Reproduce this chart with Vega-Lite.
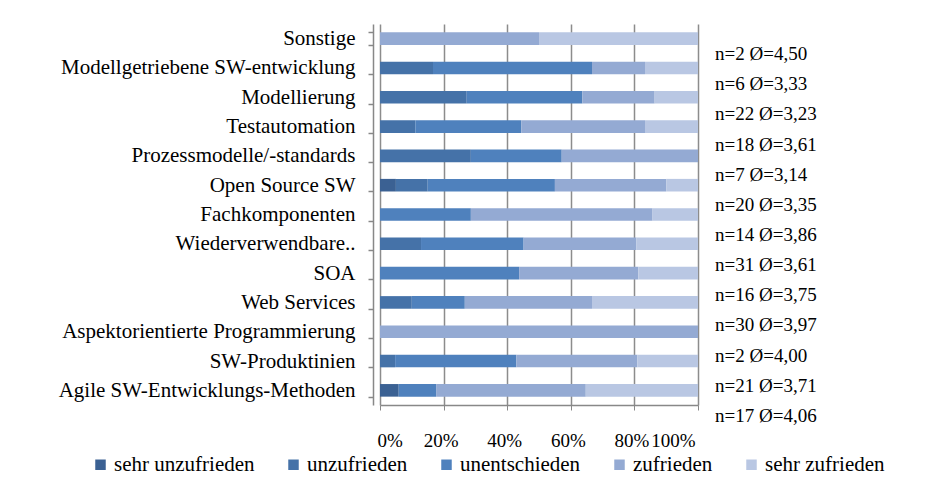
{
  "$schema": "https://vega.github.io/schema/vega-lite/v6.json",
  "width": 318,
  "height": 381,
  "autosize": {"type": "none"},
  "padding": {"left": 380, "top": 24, "right": 245, "bottom": 72},
  "background": "white",
  "config": {
    "view": {"stroke": null},
    "font": "Liberation Serif"
  },
  "datasets": {
    "counts": [
      {"cat": "Sonstige", "resp": "zufrieden", "k": 4, "n": 1},
      {"cat": "Sonstige", "resp": "sehr zufrieden", "k": 5, "n": 1},
      {"cat": "Modellgetriebene SW-entwicklung", "resp": "unzufrieden", "k": 2, "n": 1},
      {"cat": "Modellgetriebene SW-entwicklung", "resp": "unentschieden", "k": 3, "n": 3},
      {"cat": "Modellgetriebene SW-entwicklung", "resp": "zufrieden", "k": 4, "n": 1},
      {"cat": "Modellgetriebene SW-entwicklung", "resp": "sehr zufrieden", "k": 5, "n": 1},
      {"cat": "Modellierung", "resp": "unzufrieden", "k": 2, "n": 6},
      {"cat": "Modellierung", "resp": "unentschieden", "k": 3, "n": 8},
      {"cat": "Modellierung", "resp": "zufrieden", "k": 4, "n": 5},
      {"cat": "Modellierung", "resp": "sehr zufrieden", "k": 5, "n": 3},
      {"cat": "Testautomation", "resp": "unzufrieden", "k": 2, "n": 2},
      {"cat": "Testautomation", "resp": "unentschieden", "k": 3, "n": 6},
      {"cat": "Testautomation", "resp": "zufrieden", "k": 4, "n": 7},
      {"cat": "Testautomation", "resp": "sehr zufrieden", "k": 5, "n": 3},
      {"cat": "Prozessmodelle/-standards", "resp": "unzufrieden", "k": 2, "n": 2},
      {"cat": "Prozessmodelle/-standards", "resp": "unentschieden", "k": 3, "n": 2},
      {"cat": "Prozessmodelle/-standards", "resp": "zufrieden", "k": 4, "n": 3},
      {"cat": "Open Source SW", "resp": "sehr unzufrieden", "k": 1, "n": 1},
      {"cat": "Open Source SW", "resp": "unzufrieden", "k": 2, "n": 2},
      {"cat": "Open Source SW", "resp": "unentschieden", "k": 3, "n": 8},
      {"cat": "Open Source SW", "resp": "zufrieden", "k": 4, "n": 7},
      {"cat": "Open Source SW", "resp": "sehr zufrieden", "k": 5, "n": 2},
      {"cat": "Fachkomponenten", "resp": "unentschieden", "k": 3, "n": 4},
      {"cat": "Fachkomponenten", "resp": "zufrieden", "k": 4, "n": 8},
      {"cat": "Fachkomponenten", "resp": "sehr zufrieden", "k": 5, "n": 2},
      {"cat": "Wiederverwendbare..", "resp": "unzufrieden", "k": 2, "n": 4},
      {"cat": "Wiederverwendbare..", "resp": "unentschieden", "k": 3, "n": 10},
      {"cat": "Wiederverwendbare..", "resp": "zufrieden", "k": 4, "n": 11},
      {"cat": "Wiederverwendbare..", "resp": "sehr zufrieden", "k": 5, "n": 6},
      {"cat": "SOA", "resp": "unentschieden", "k": 3, "n": 7},
      {"cat": "SOA", "resp": "zufrieden", "k": 4, "n": 6},
      {"cat": "SOA", "resp": "sehr zufrieden", "k": 5, "n": 3},
      {"cat": "Web Services", "resp": "unzufrieden", "k": 2, "n": 3},
      {"cat": "Web Services", "resp": "unentschieden", "k": 3, "n": 5},
      {"cat": "Web Services", "resp": "zufrieden", "k": 4, "n": 12},
      {"cat": "Web Services", "resp": "sehr zufrieden", "k": 5, "n": 10},
      {"cat": "Aspektorientierte Programmierung", "resp": "zufrieden", "k": 4, "n": 2},
      {"cat": "SW-Produktinien", "resp": "unzufrieden", "k": 2, "n": 1},
      {"cat": "SW-Produktinien", "resp": "unentschieden", "k": 3, "n": 8},
      {"cat": "SW-Produktinien", "resp": "zufrieden", "k": 4, "n": 8},
      {"cat": "SW-Produktinien", "resp": "sehr zufrieden", "k": 5, "n": 4},
      {"cat": "Agile SW-Entwicklungs-Methoden", "resp": "sehr unzufrieden", "k": 1, "n": 1},
      {"cat": "Agile SW-Entwicklungs-Methoden", "resp": "unentschieden", "k": 3, "n": 2},
      {"cat": "Agile SW-Entwicklungs-Methoden", "resp": "zufrieden", "k": 4, "n": 8},
      {"cat": "Agile SW-Entwicklungs-Methoden", "resp": "sehr zufrieden", "k": 5, "n": 6}
    ],
    "labels": [
      {"i": 1, "txt": "n=2 Ø=4,50"},
      {"i": 2, "txt": "n=6 Ø=3,33"},
      {"i": 3, "txt": "n=22 Ø=3,23"},
      {"i": 4, "txt": "n=18 Ø=3,61"},
      {"i": 5, "txt": "n=7 Ø=3,14"},
      {"i": 6, "txt": "n=20 Ø=3,35"},
      {"i": 7, "txt": "n=14 Ø=3,86"},
      {"i": 8, "txt": "n=31 Ø=3,61"},
      {"i": 9, "txt": "n=16 Ø=3,75"},
      {"i": 10, "txt": "n=30 Ø=3,97"},
      {"i": 11, "txt": "n=2 Ø=4,00"},
      {"i": 12, "txt": "n=21 Ø=3,71"},
      {"i": 13, "txt": "n=17 Ø=4,06"}
    ]
  },
  "layer": [
    {
      "data": {"name": "counts"},
      "mark": {"type": "bar"},
      "encoding": {
        "y": {
          "field": "cat",
          "type": "nominal",
          "sort": ["Sonstige", "Modellgetriebene SW-entwicklung", "Modellierung", "Testautomation", "Prozessmodelle/-standards", "Open Source SW", "Fachkomponenten", "Wiederverwendbare..", "SOA", "Web Services", "Aspektorientierte Programmierung", "SW-Produktinien", "Agile SW-Entwicklungs-Methoden"],
          "scale": {"paddingInner": 0.57, "paddingOuter": 0.285},
          "axis": {
            "title": null,
            "offset": 7,
            "domainColor": "#888888",
            "domainWidth": 1.5,
            "tickColor": "#888888",
            "tickWidth": 1.5,
            "tickSize": 5,
            "tickBand": "extent",
            "labelPadding": 13,
            "labelFont": "Liberation Serif",
            "labelFontSize": 21,
            "labelColor": "#000000",
            "labelLimit": 400
          }
        },
        "x": {
          "field": "n",
          "type": "quantitative",
          "stack": "normalize",
          "scale": {"domain": [0, 1]},
          "axis": {
            "title": null,
            "values": [0, 0.2, 0.4, 0.6, 0.8, 1],
            "format": ".0%",
            "labelOverlap": false,
            "labelFlush": true,
            "labelOffset": -3,
            "grid": true,
            "gridColor": "#8c8c8c",
            "gridWidth": 1.5,
            "domainColor": "#888888",
            "domainWidth": 1.5,
            "tickColor": "#888888",
            "tickSize": 5,
            "labelPadding": 21,
            "labelFont": "Liberation Serif",
            "labelFontSize": 19,
            "labelColor": "#000000"
          }
        },
        "color": {
          "field": "resp",
          "type": "nominal",
          "scale": {
            "domain": ["sehr unzufrieden", "unzufrieden", "unentschieden", "zufrieden", "sehr zufrieden"],
            "range": ["#3b6193", "#4572a8", "#4f81bd", "#94aad3", "#b9c7e3"]
          },
          "legend": {
            "title": null,
            "orient": "none",
            "direction": "horizontal",
            "legendX": -290,
            "legendY": 430,
            "symbolType": "square",
            "symbolSize": 110,
            "symbolStrokeWidth": 0,
            "symbolOpacity": 1,
            "labelFont": "Liberation Serif",
            "labelFontSize": 21,
            "labelColor": "#000000",
            "labelOffset": 3,
            "columnPadding": 28
          }
        },
        "order": {"field": "k", "type": "quantitative"}
      }
    },
    {
      "data": {"name": "labels"},
      "mark": {"type": "text", "align": "left", "baseline": "middle", "dx": 17, "font": "Liberation Serif", "fontSize": 19, "color": "#000000"},
      "encoding": {
        "y": {
          "field": "i",
          "type": "ordinal",
          "scale": {"range": [15, 407], "paddingInner": 0, "paddingOuter": 0},
          "axis": null
        },
        "x": {"datum": 1, "type": "quantitative"},
        "text": {"field": "txt"}
      }
    }
  ],
  "resolve": {"scale": {"y": "independent"}}
}
